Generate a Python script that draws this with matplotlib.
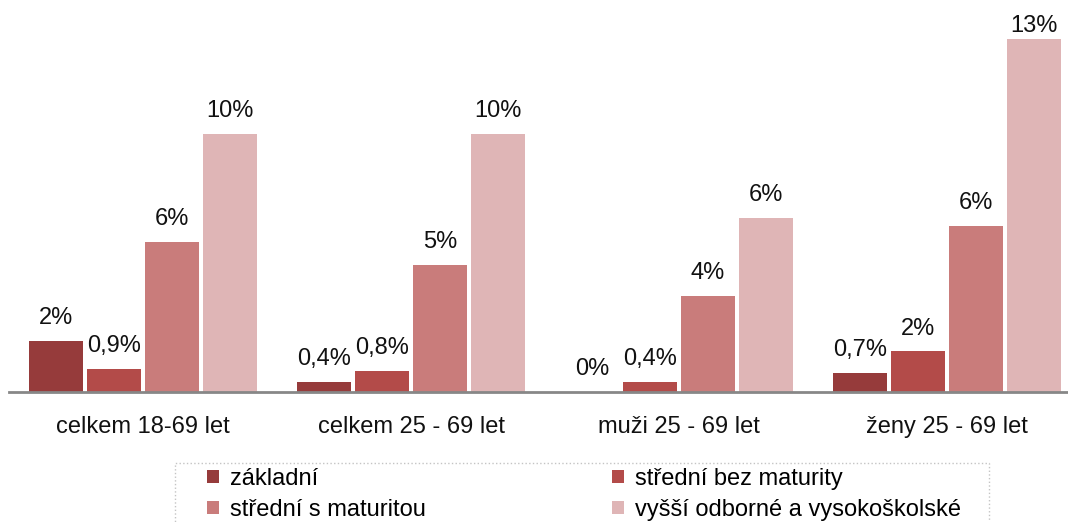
import numpy as np
import matplotlib
matplotlib.use("Agg")
import matplotlib.pyplot as plt
from matplotlib.patches import Rectangle

plt.rcParams['font.family'] = ['Liberation Sans', 'DejaVu Sans']

categories = ['celkem 18-69 let', 'celkem 25 - 69 let', 'muži 25 - 69 let', 'ženy 25 - 69 let']
series = ['základní', 'střední bez maturity', 'střední s maturitou', 'vyšší odborné a vysokoškolské']
zakladni = [1.89, 0.38, 0.0, 0.70]
bez_maturity = [0.87, 0.78, 0.38, 1.51]
s_maturitou = [5.56, 4.70, 3.56, 6.15]
vysokoskolske = [9.56, 9.56, 6.46, 13.07]
colors = ['#963B3B', '#B34B49', '#C97C7B', '#DFB5B6']


def fmt(v):
    if 0 < v < 1:
        return f"{v:.1f}".replace('.', ',') + '%'
    return f"{round(v)}%"


W, H = 1068, 522
fig = plt.figure(figsize=(W / 100, H / 100), dpi=100)
# axes: baseline at y=392 px, groups every 268 px starting at 143 px
ax = fig.add_axes([9 / W, (H - 392) / H, 1072 / W, 378 / H])

x = np.arange(len(categories))
pitch = 58 / 268
width = 54 / 268
ymax = 14
data = [zakladni, bez_maturity, s_maturitou, vysokoskolske]
handles = []
for i, (vals, col) in enumerate(zip(data, colors)):
    pos = x + (i - 1.5) * pitch
    bars = ax.bar(pos, vals, width, color=col, label=series[i])
    handles.append(bars)
    for p, v in zip(pos, vals):
        # labels close to the top are squeezed down, like the original
        off = 12 if v < ymax - 1.5 else 5
        ax.annotate(fmt(v), (p, v), xytext=(0, off), textcoords='offset points',
                    ha='center', va='baseline', fontsize=17, color='#111111')

ax.set_xlim(-0.5, 3.5)
ax.set_ylim(0, ymax)
ax.set_yticks([])
ax.set_xticks(x)
ax.set_xticklabels(categories, fontsize=17, color='#111111')
ax.tick_params(axis='x', length=0, pad=17)
for s in ['top', 'right', 'left']:
    ax.spines[s].set_visible(False)
ax.spines['bottom'].set_color('#878787')
ax.spines['bottom'].set_linewidth(2)

# legend (column-wise fill)
order = [0, 2, 1, 3]
leg = fig.legend([handles[k] for k in order], [series[k] for k in order],
                 ncol=2, loc='upper left', bbox_to_anchor=(207 / W, 1 - 468 / H),
                 frameon=False, fontsize=17, handlelength=0.5, handleheight=0.5,
                 handletextpad=0.47, columnspacing=7.9, labelspacing=0.37,
                 borderpad=0, borderaxespad=0)
fig.add_artist(Rectangle((175 / W, -0.05), (989 - 175) / W, (H - 463) / H + 0.05,
                         transform=fig.transFigure, fill=False, ls=':',
                         ec='#c4c4c4', lw=1))

fig.savefig('out.png', dpi=100)
